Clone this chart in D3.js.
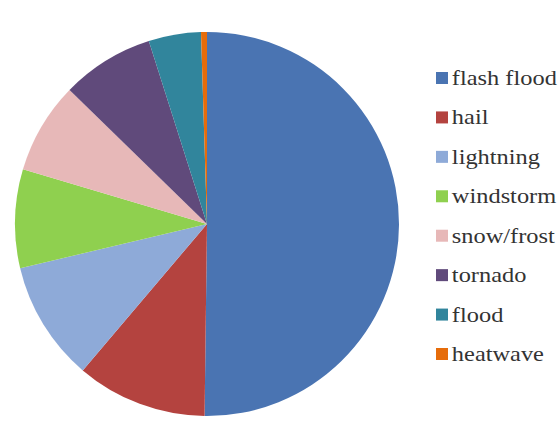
<!doctype html>
<html>
<head>
    <meta charset="utf-8">
    <title>Pie</title>
    <style>
    body { margin: 0; background: #fff; }
    .legend text {
        font-family: "Liberation Serif", "Times New Roman", serif;
        font-size: 20px;
        fill: #333;
    }
    </style>
    <script src="https://cdn.jsdelivr.net/npm/d3@7"></script>
</head>
<body>
    <svg width="559" height="421"></svg>
    <script>
    var categories = ["flash flood", "hail", "lightning", "windstorm", "snow/frost", "tornado", "flood", "heatwave"];
    var values = [50.2, 11.0, 10.1, 8.3, 7.7, 7.8, 4.4, 0.5];
    var colors = ["#4a74b2", "#b4433f", "#8eaad8", "#8fd04f", "#e7b8b8", "#604a7b", "#31859c", "#e66c0a"];

    var svg = d3.select("svg"),
        cx = 207, cy = 224, r = 192;

    var data = categories.map(function(c, i) { return { name: c, value: values[i] }; });

    var pie = d3.pie()
        .sort(null)
        .value(function(d) { return d.value; });

    var arc = d3.arc().innerRadius(0).outerRadius(r);

    var color = d3.scaleOrdinal().domain(categories).range(colors);

    svg.append("g")
        .attr("transform", "translate(" + cx + "," + cy + ")")
        .selectAll("path")
        .data(pie(data))
        .enter().append("path")
        .attr("d", arc)
        .style("fill", function(d) { return color(d.data.name); });

    var ly = d3.scalePoint().domain(categories).range([78, 354]);

    var legend = svg.append("g").attr("class", "legend")
        .selectAll("g")
        .data(categories)
        .enter().append("g")
        .attr("transform", function(d) { return "translate(436," + ly(d) + ")"; });

    legend.append("rect")
        .attr("x", 0).attr("y", -6)
        .attr("width", 12).attr("height", 12)
        .style("fill", function(d) { return color(d); });

    legend.append("text")
        .attr("x", 13).attr("y", 7)
        .attr("transform", "scale(1.22,1)")
        .text(function(d) { return d; });
    </script>
</body>
</html>
